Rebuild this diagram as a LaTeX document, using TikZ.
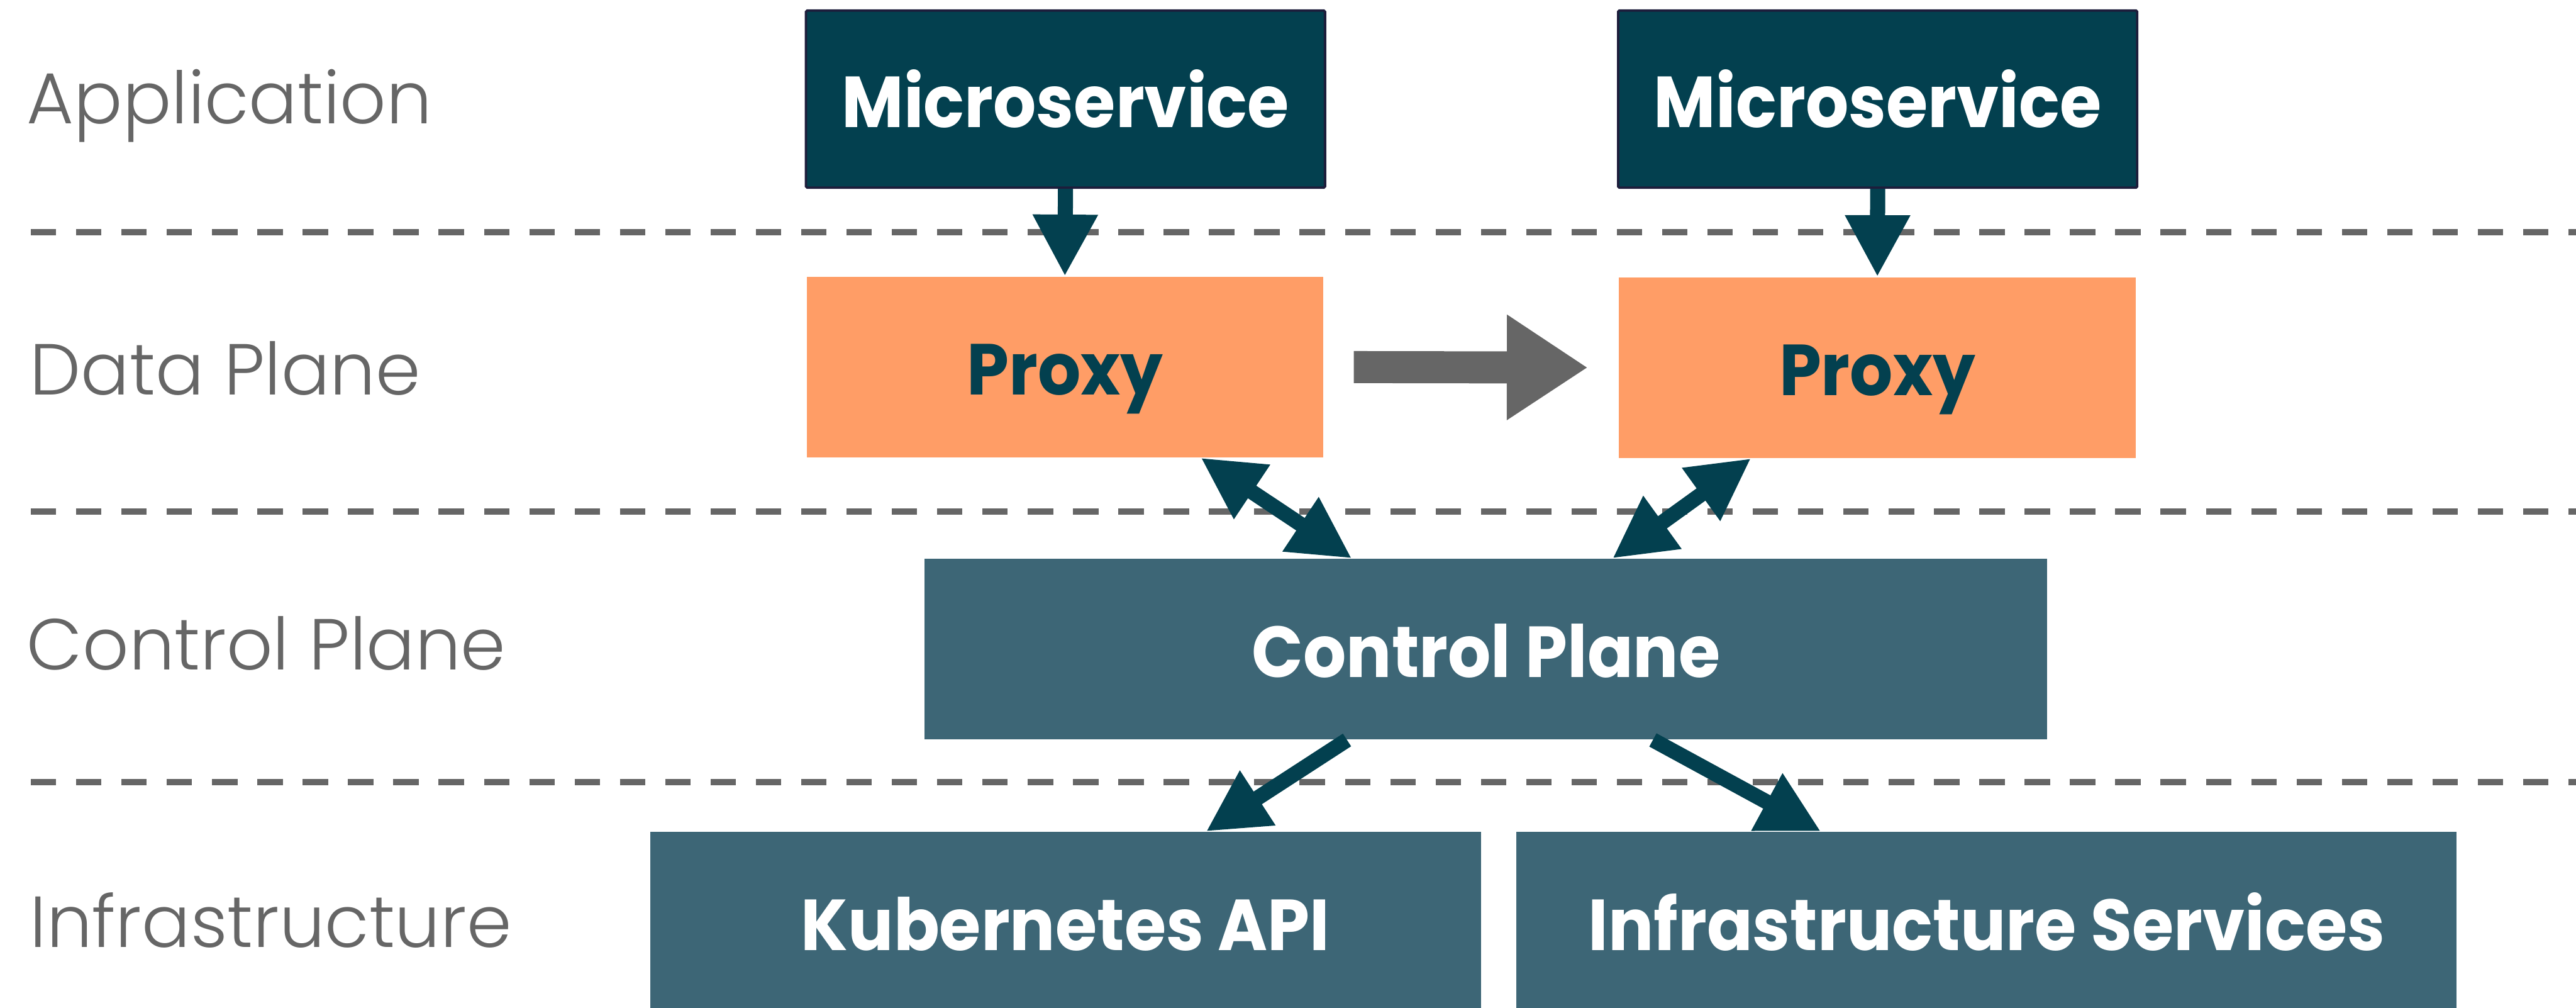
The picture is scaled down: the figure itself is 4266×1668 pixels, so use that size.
\documentclass[tikz,border=0pt]{standalone}
\usepackage{fontspec}
\setmainfont{Poppins}
\newfontfamily\lblfont{Poppins Light}
\newfontfamily\boxfont[FakeStretch=0.935]{Poppins}
\usetikzlibrary{arrows.meta,calc}

\definecolor{msfill}{HTML}{03404F}
\definecolor{msborder}{HTML}{1D1D3B}
\definecolor{proxyfill}{HTML}{FF9D66}
\definecolor{slate}{HTML}{3D6676}
\definecolor{arrowteal}{HTML}{03404F}
\definecolor{lblgray}{HTML}{666666}

\begin{document}
\begin{tikzpicture}[x=0.01cm, y=-0.01cm,
  layerlabel/.style={font=\lblfont\fontsize{34}{40}\selectfont, text=lblgray,
    anchor=base west, inner sep=0pt},
  boxtext/.style={inner sep=0pt, text height=0.93cm, text depth=0pt,
    font=\boxfont\bfseries\fontsize{34}{40}\selectfont},
  msbox/.style={boxtext, fill=msfill, draw=msborder, line width=0.04cm,
    rounded corners=0.02cm, text=white, minimum width=8.59cm, minimum height=2.93cm},
  proxybox/.style={boxtext, fill=proxyfill, text=msfill,
    minimum width=8.55cm, minimum height=2.99cm},
  slatebox/.style={boxtext, fill=slate, text=white, minimum height=2.99cm},
  divider/.style={draw=lblgray, line width=0.105cm, dash pattern=on 0.42cm off 0.33cm},
  flow/.style={draw=arrowteal, line width=0.25cm,
    >={Triangle[length=1.02cm, width=1.01cm]}},
  bigflow/.style={draw=lblgray, line width=0.53cm,
    -{Triangle[length=1.34cm, width=1.65cm]}}
]
\useasboundingbox (0,0) rectangle (4266,1668);

% layer separators
\draw[divider] (51,384) -- (4300,384);
\draw[divider] (51,847) -- (4300,847);
\draw[divider] (51,1295) -- (4300,1295);

% layer names
\node[layerlabel] (lapp) at (44,205) {Application};
\node[layerlabel] (ldata) at (49,653) {Data Plane};
\node[layerlabel] (lctrl) at (44,1109) {Control Plane};
\node[layerlabel] (linfra) at (49,1568) {Infrastructure};

% application layer
\node[msbox] (ms1) at (1764.5,164) {Microservice};
\node[msbox] (ms2) at (3109.5,164) {Microservice};

% data plane
\node[proxybox] (p1) at (1763.5,607.5) {Proxy};
\node[proxybox] (p2) at (3109,608.5) {Proxy};

% control plane
\node[slatebox, minimum width=18.58cm] (cp) at (2461,1074.5) {Control Plane};

% infrastructure
\node[slatebox, minimum width=13.75cm, minimum height=3.00cm] (k8s) at (1764.5,1527) {Kubernetes API};
\node[slatebox, minimum width=15.56cm, minimum height=3.00cm] (infra) at (3290,1527) {Infrastructure Services};

% microservice to proxy
\draw[flow, ->] (ms1.south) -- (p1.north);
\draw[flow, ->] (ms2.south) -- (p2.north);

% proxy to proxy traffic
\draw[bigflow, shorten <=0.50cm, shorten >=0.51cm] (p1.east) -- (p2.west);

% proxies and the control plane
\draw[flow, <->] ($(p1.south west)!0.7626!(p1.south east)$) -- ($(cp.north west)!0.3805!(cp.north east)$);
\draw[flow, <->] ($(p2.south west)!0.2558!(p2.south east)$) -- ($(cp.north west)!0.6125!(cp.north east)$);

% control plane to infrastructure
\draw[flow, ->] ($(cp.south west)!0.3762!(cp.south east)$) -- ($(k8s.north west)!0.669!(k8s.north east)$);
\draw[flow, ->] ($(cp.south west)!0.6485!(cp.south east)$) -- ($(infra.north west)!0.3239!(infra.north east)$);
\end{tikzpicture}
\end{document}
